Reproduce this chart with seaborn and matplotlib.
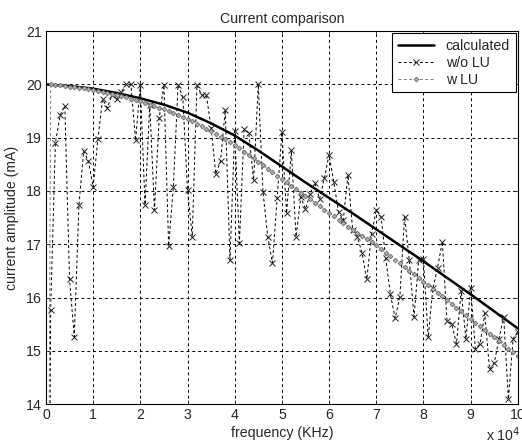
import numpy as np
import matplotlib
matplotlib.use("Agg")
import matplotlib.pyplot as plt
from matplotlib.ticker import FuncFormatter
import seaborn as sns

# calculated curve, every 5 kHz
calc_freq = np.arange(0, 100001, 5000)
calc_amp = [20.00, 19.97, 19.92, 19.84, 19.74, 19.62, 19.47, 19.27, 19.04, 18.76,
            18.46, 18.16, 17.87, 17.58, 17.28, 16.98, 16.68, 16.37, 16.06, 15.74,
            15.42]

# simulated points, every 1 kHz
freq = np.arange(0, 100001, 1000)
wo_lu = [0.00,
         15.77, 18.90, 19.42, 19.60, 16.35, 15.26, 17.74, 18.75, 18.56, 18.07,
         18.97, 19.72, 19.56, 19.80, 19.72, 19.86, 20.00, 20.00, 18.95, 19.99,
         17.74, 19.62, 17.64, 19.37, 19.99, 16.97, 18.07, 19.99, 19.76, 18.02,
         17.14, 19.99, 19.80, 19.80, 19.18, 18.32, 18.56, 19.52, 16.70, 19.13,
         17.02, 19.16, 19.08, 18.20, 20.00, 17.98, 17.14, 16.65, 17.86, 19.10,
         17.58, 18.76, 17.14, 17.89, 17.66, 17.95, 18.15, 17.85, 18.24, 18.68,
         18.17, 17.61, 17.45, 18.30, 17.27, 17.14, 16.83, 16.34, 17.20, 17.64,
         17.52, 16.74, 16.06, 15.61, 16.01, 17.52, 16.70, 15.64, 16.70, 16.72,
         15.25, 16.17, 16.56, 17.05, 15.55, 15.50, 15.13, 16.13, 15.22, 16.17,
         15.04, 15.13, 15.70, 14.65, 14.77, 15.22, 15.64, 14.09, 15.23, 15.36]
w_lu = [0.00,
        20.00, 19.99, 19.98, 19.97, 19.96, 19.95, 19.94, 19.93, 19.92, 19.90,
        19.88, 19.86, 19.84, 19.82, 19.80, 19.78, 19.76, 19.73, 19.71, 19.68,
        19.65, 19.62, 19.59, 19.56, 19.53, 19.50, 19.46, 19.43, 19.39, 19.35,
        19.31, 19.26, 19.22, 19.17, 19.12, 19.07, 19.02, 18.97, 18.91, 18.86,
        18.80, 18.74, 18.68, 18.61, 18.55, 18.49, 18.42, 18.36, 18.29, 18.23,
        18.17, 18.10, 18.04, 17.97, 17.91, 17.85, 17.78, 17.72, 17.65, 17.59,
        17.53, 17.46, 17.40, 17.33, 17.27, 17.21, 17.15, 17.10, 17.04, 16.98,
        16.91, 16.84, 16.78, 16.71, 16.64, 16.57, 16.50, 16.44, 16.37, 16.30,
        16.23, 16.16, 16.09, 16.02, 15.95, 15.88, 15.81, 15.74, 15.67, 15.60,
        15.53, 15.46, 15.39, 15.32, 15.25, 15.18, 15.11, 15.04, 14.97, 14.90]

FS = 10.2

sns.set_style("ticks")
plt.rcParams['font.family'] = ['Liberation Sans', 'DejaVu Sans']
plt.rcParams['font.size'] = FS

fig = plt.figure(figsize=(5.22, 4.45), dpi=100)
ax = fig.add_axes([0.088, 0.092, 0.904, 0.838])

sns.lineplot(x=calc_freq, y=calc_amp, ax=ax, color='black', linewidth=1.8,
             estimator=None, sort=False, label='calculated')
sns.lineplot(x=freq, y=wo_lu, ax=ax, color='black', linewidth=0.7,
             linestyle=(0, (3, 2.5)), marker='x', markersize=4, mew=0.7,
             mec='#222222', estimator=None, sort=False, label='w/o LU')
sns.lineplot(x=freq, y=w_lu, ax=ax, color='#7a7a7a', linewidth=0.7,
             linestyle=(0, (3, 2.5)), marker='D', markersize=2.4, mew=0.6,
             mfc='#b0b0b0', mec='#6a6a6a', estimator=None, sort=False,
             label='w LU')

ax.set_xlim(0, 100000)
ax.set_ylim(14, 21)
ax.set_xticks(np.arange(0, 100001, 10000))
ax.set_yticks(np.arange(14, 22, 1))
ax.xaxis.set_major_formatter(FuncFormatter(lambda v, _: f"{v / 1e4:g}"))
ax.grid(True, color='black', linestyle=(0, (3, 3)), linewidth=0.7)
ax.tick_params(direction='in', top=True, right=True, length=3, width=0.6,
               labelsize=FS, pad=3)
for s in ax.spines.values():
    s.set_linewidth(0.8)
    s.set_color('black')

ax.set_title('Current comparison', fontsize=FS, pad=6)
ax.set_xlabel('frequency (KHz)', fontsize=FS, labelpad=3)
ax.set_ylabel('current amplitude (mA)', fontsize=FS, labelpad=5)
ax.text(1.005, -0.058, r'x 10$^4$', transform=ax.transAxes, ha='right',
        va='top', fontsize=FS)

leg = ax.legend(loc='upper right', frameon=True, fancybox=False,
                edgecolor='black', framealpha=1, borderaxespad=0.15,
                handlelength=2.6, fontsize=FS, borderpad=0.4,
                labelspacing=0.2)
leg.get_frame().set_linewidth(0.8)

fig.savefig('out.png', dpi=100)
